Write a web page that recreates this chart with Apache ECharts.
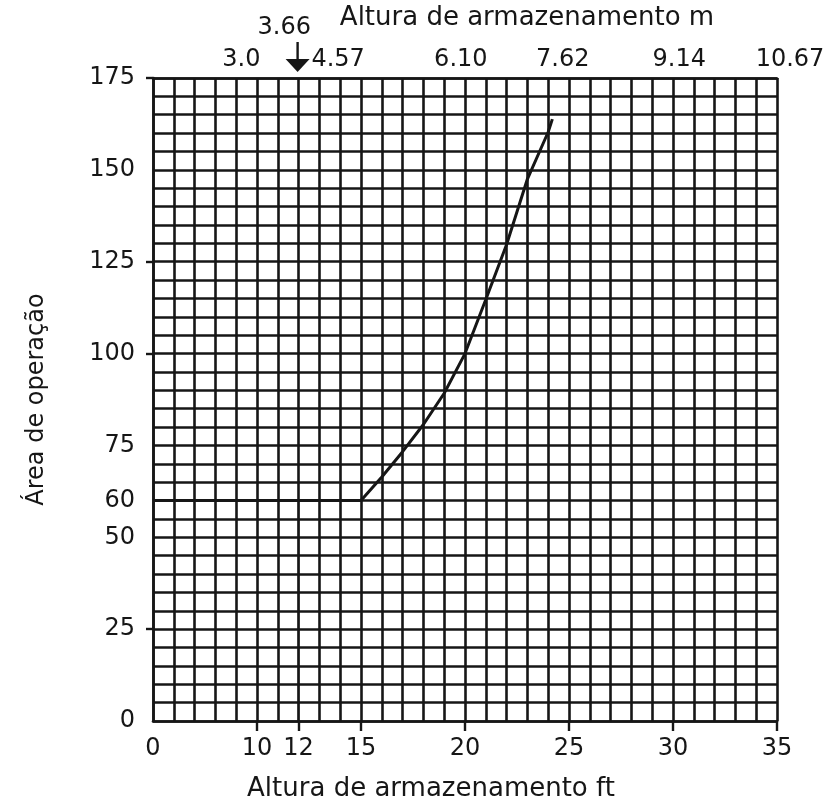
<!DOCTYPE html>
<html>
<head>
<meta charset="utf-8">
<script src="https://cdn.jsdelivr.net/npm/echarts@6/dist/echarts.min.js"></script>
<style>
html, body { margin: 0; padding: 0; background: #fff; }
#chart { width: 832px; height: 807px; }
</style>
</head>
<body>
<div id="chart"></div>
<script>
// curve: storage height (ft) -> operating area
var curveFt = [0, 12, 15, 16, 17, 18, 19, 20, 21, 22, 23, 24, 24.2];
var curveArea = [60, 60, 60, 66.4, 73.3, 80.7, 89.2, 100, 114.7, 129.7, 147.5, 160.3, 163.8];
// thin drop line at 12 ft
var dropFt = [12, 12];
var dropArea = [0, 60];

var ftLabels = [0, 10, 12, 15, 20, 25, 30, 35];
var ftTickMarks = [10, 12, 15, 20, 25, 30, 35];
var areaLabels = [0, 25, 50, 60, 75, 100, 125, 150, 175];
var areaTickMarks = [25, 100, 125, 175];
var meterLabels = ['3.0', '4.57', '6.10', '7.62', '9.14', '10.67'];
var meterAtFt = [8.5, 13.9, 19.8, 24.7, 30.3, 35];

var ink = '#161616';
var font = 'DejaVu Sans';

// the 0..10 ft stretch is drawn at half scale on the original sheet
function ftPos(ft) {
    return ft < 10 ? 5 + ft / 2 : ft;
}
function posFt(p) {
    return p < 10 ? (p - 5) * 2 : p;
}

var chart = echarts.init(document.getElementById('chart'));

var meterPos = meterAtFt.map(ftPos);

option = {
    backgroundColor: '#fff',
    animation: false,
    grid: {left: 153, right: 55, top: 78, bottom: 85},
    xAxis: [
        {
            type: 'value', min: 5, max: 35, interval: 1, position: 'bottom',
            axisLine: {show: true, lineStyle: {color: ink, width: 2.6}},
            axisTick: {show: false},
            axisLabel: {show: false},
            splitLine: {show: true, lineStyle: {color: ink, width: 2.6}}
        },
        {
            type: 'value', min: 5, max: 35, interval: 1, position: 'bottom',
            axisLine: {show: false},
            axisTick: {show: true, customValues: ftTickMarks.map(ftPos), length: 10, lineStyle: {color: ink, width: 2.4}},
            axisLabel: {
                customValues: ftLabels.map(ftPos), margin: 16,
                color: ink, fontFamily: font, fontSize: 24,
                formatter: function (v) {
                    return String(Math.round(posFt(v)));
                }
            },
            splitLine: {show: false},
            name: 'Altura de armazenamento ft',
            nameLocation: 'middle', nameGap: 55,
            nameTextStyle: {color: ink, fontFamily: font, fontSize: 26, padding: [0, 68, 0, 0]}
        },
        {
            type: 'value', min: 5, max: 35, position: 'top',
            axisLine: {show: true, lineStyle: {color: ink, width: 2.6}},
            axisTick: {show: false},
            axisLabel: {
                customValues: meterPos, margin: 6,
                color: ink, fontFamily: font, fontSize: 24,
                formatter: function (v) {
                    for (var i = 0; i < meterPos.length; i++) {
                        if (Math.abs(meterPos[i] - v) < 1e-6) {
                            return i === meterPos.length - 1 ? '{e|' + meterLabels[i] + '}' : meterLabels[i];
                        }
                    }
                    return '';
                },
                rich: {
                    e: {color: ink, fontFamily: font, fontSize: 24, padding: [0, 0, 0, 26]}
                }
            },
            splitLine: {show: false},
            name: 'Altura de armazenamento m',
            nameLocation: 'middle', nameGap: 47,
            nameTextStyle: {color: ink, fontFamily: font, fontSize: 26, padding: [0, 0, 0, 124]}
        }
    ],
    yAxis: [
        {
            type: 'value', min: 0, max: 175, interval: 5, position: 'left',
            axisLine: {show: true, lineStyle: {color: ink, width: 2.6}},
            axisTick: {show: false},
            axisLabel: {show: false},
            splitLine: {show: true, lineStyle: {color: ink, width: 2.6}}
        },
        {
            type: 'value', min: 0, max: 175, interval: 5, position: 'left',
            axisLine: {show: false},
            axisTick: {show: true, customValues: areaTickMarks, length: 7, lineStyle: {color: ink, width: 2.4}},
            axisLabel: {customValues: areaLabels, margin: 18, color: ink, fontFamily: font, fontSize: 24},
            splitLine: {show: false},
            name: 'Área de operação',
            nameLocation: 'middle', nameGap: 104,
            nameTextStyle: {color: ink, fontFamily: font, fontSize: 24}
        }
    ],
    series: [
        {
            type: 'line', xAxisIndex: 0, yAxisIndex: 0,
            data: curveFt.map(function (f, i) { return [ftPos(f), curveArea[i]]; }),
            symbol: 'none',
            lineStyle: {color: ink, width: 3}
        },
        {
            type: 'line', xAxisIndex: 0, yAxisIndex: 0,
            data: dropFt.map(function (f, i) { return [ftPos(f), dropArea[i]]; }),
            symbol: 'none',
            lineStyle: {color: ink, width: 1.5}
        }
    ]
};
chart.setOption(option);

// 3.66 m marker with its arrow above the 12 ft line
var ax = chart.convertToPixel({xAxisIndex: 0}, ftPos(12)) - 1;
chart.setOption({
    graphic: [
        {type: 'text', left: ax - 40, top: 16, style: {text: '3.66', fill: ink, font: '24px "DejaVu Sans"'}},
        {type: 'line', shape: {x1: ax, y1: 42, x2: ax, y2: 62}, style: {stroke: ink, lineWidth: 2.4}},
        {type: 'polygon', shape: {points: [[ax - 12, 59], [ax + 12, 59], [ax, 72]]}, style: {fill: ink}}
    ]
});
</script>
</body>
</html>
